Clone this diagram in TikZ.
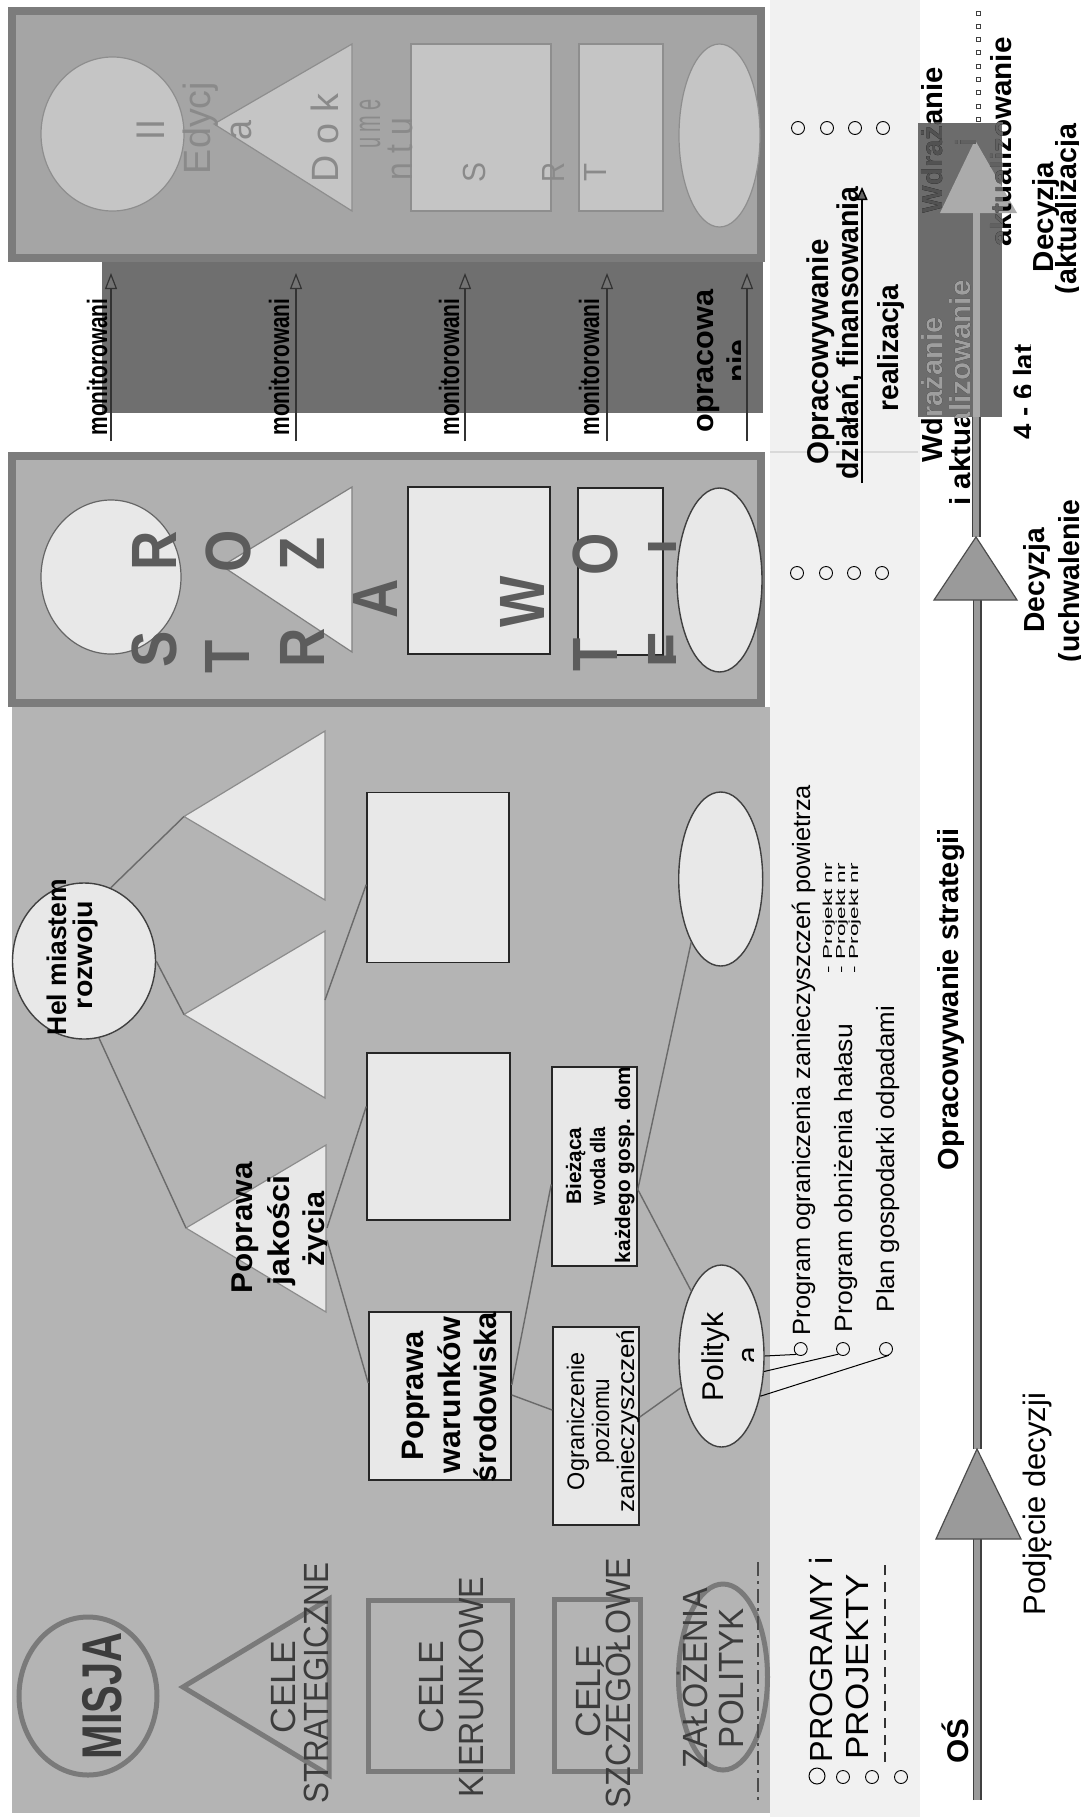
\documentclass[tikz,border=0pt]{standalone}
\usepackage{fontspec}
\setmainfont{Liberation Sans}
\usepackage{graphicx}
\usetikzlibrary{arrows.meta,calc,shapes.geometric}
\definecolor{panel}{HTML}{B4B4B4}
\definecolor{framec}{HTML}{7C7C7C}
\definecolor{topin}{HTML}{A5A5A5}
\definecolor{topshape}{HTML}{C5C5C5}
\definecolor{topedge}{HTML}{8E8E8E}
\definecolor{ghost}{HTML}{8A8A8A}
\definecolor{stratin}{HTML}{B0B0B0}
\definecolor{lightshape}{HTML}{E8E8E8}
\definecolor{darkband}{HTML}{6F6F6F}
\definecolor{lightband}{HTML}{F1F1F1}
\definecolor{legc}{HTML}{7A7A7A}
\definecolor{legtext}{HTML}{3C3C3C}
\definecolor{letc}{HTML}{5C5C5C}
\definecolor{connc}{HTML}{6A6A6A}
\definecolor{tlfill}{HTML}{9A9A9A}
\definecolor{wdrc}{HTML}{6C6C6C}
\definecolor{wdrtri}{HTML}{ABABAB}
\newcommand\fs[1]{\fontsize{#1}{#1}\selectfont}
\newcommand\W[2]{\resizebox{#1pt}{\height}{#2}}
\begin{document}
\begin{tikzpicture}[x=1pt,y=-1pt,
  txt/.style={rotate=90,anchor=base,inner sep=0pt,outer sep=0pt},
  ctxt/.style={rotate=90,anchor=center,inner sep=0pt,outer sep=0pt},
  conn/.style={draw=connc,line width=1.4pt},
  whitebox/.style={rectangle,draw=black!85,fill=lightshape,line width=1.6pt,inner sep=0pt},
  whiteell/.style={ellipse,draw=black!75,fill=lightshape,line width=1.4pt,inner sep=0pt},
  tri/.style={draw=black!45,fill=lightshape,line width=1.2pt},
  topsh/.style={draw=topedge,fill=topshape,line width=1.2pt,inner sep=0pt},
  legshape/.style={draw=legc,line width=5pt,inner sep=0pt},
  bulletc/.style={circle,draw=black,line width=0.9pt,inner sep=0pt,minimum size=13pt},
  marrow/.style={draw=black!80,line width=1.2pt,-{Triangle[length=16pt,width=12pt,fill=black!55]}},
  tlout/.style={draw=black!75,line width=9pt},
  tlin/.style={draw=tlfill,line width=6pt},
  mtri/.style={draw=black!70,fill=tlfill,line width=1.2pt}
]
\useasboundingbox (0,0) rectangle (1082,1817);
\fill[white] (0,0) rectangle (1082,1817);

% ---------- light band on the right
\fill[lightband] (770,0) rectangle (920,1817);
\draw[line width=2pt,black!15] (770,452) -- (918,452);

% ---------- pyramid panel
\fill[panel] (12,707) rectangle (770,1813);

% ---------- top box (II Edycja Dokumentu)
\draw[line width=8pt,draw=framec,fill=topin] (12,11) rectangle (761,258);
\node[ellipse,topsh,minimum width=143pt,minimum height=154pt] (te1) at (112.5,134) {};
\draw[topsh] (214,124) -- (352,44) -- (352,211) -- cycle;
\node[rectangle,topsh,minimum width=140pt,minimum height=167pt] (tr1) at (481,127.5) {};
\node[rectangle,topsh,minimum width=84pt,minimum height=167pt] (tr2) at (621,127.5) {};
\node[ellipse,topsh,minimum width=81pt,minimum height=183pt] (te2) at (719.5,135.5) {};
\begin{scope}[text=ghost]
\node[txt,font={\fs{40}}] (g1) at (164,130) {\W{20}{II}};
\node[txt,font={\fs{38}}] (g2) at (210,128) {\W{92}{Edycj}};
\node[txt,font={\fs{38}}] (g3) at (251,130) {\W{20}{a}};
\node[txt,font={\fs{38}}] (g4) at (338,138) {\W{88}{D o k}};
\node[txt,font={\fs{38}}] (g5) at (380,124) {\W{50}{u m e}};
\node[txt,font={\fs{38}}] (g6) at (412,149) {\W{62}{n t u}};
\node[txt,font={\fs{32}}] (g7) at (485,172) {\W{20}{S}};
\node[txt,font={\fs{32}}] (g8) at (564,172) {\W{20}{R}};
\node[txt,font={\fs{32}}] (g9) at (606,172) {\W{18}{T}};
\end{scope}

% ---------- monitoring band
\fill[darkband] (102,262) rectangle (763,413);
\foreach \n/\xx in {1/111,2/296,3/465,4/607,5/747}{
  \coordinate (ma\n) at (\xx,441);
  \coordinate (mb\n) at (\xx,273);
  \draw[marrow] (ma\n) -- (mb\n);
}
\node[txt,font={\fs{28}\bfseries}] (m1) at (107,367) {\W{137}{monitorowani}};
\node[txt,font={\fs{28}\bfseries}] (m2) at (289,367) {\W{137}{monitorowani}};
\node[txt,font={\fs{28}\bfseries}] (m3) at (459,367) {\W{137}{monitorowani}};
\node[txt,font={\fs{28}\bfseries}] (m4) at (599,367) {\W{137}{monitorowani}};
\node[txt,font={\fs{30}\bfseries}] (op1) at (713,361) {\W{143}{opracowa}};
\begin{scope}
\clip (700,300) rectangle (740,420);
\node[txt,font={\fs{30}\bfseries}] (op2) at (748,361) {nie};
\end{scope}

% ---------- STRATEGIA box
\draw[line width=8pt,draw=framec,fill=stratin] (12,456) rectangle (761,703);
\node[ellipse,draw=black!60,fill=lightshape,line width=1.2pt,inner sep=0pt,minimum width=140pt,minimum height=154pt] (sc) at (111,577) {};
\draw[draw=black!50,fill=lightshape,line width=1.2pt] (222,566) -- (352,487) -- (352,652) -- cycle;
\node[whitebox,minimum width=142pt,minimum height=167pt] (sr1) at (479,570.5) {};
\node[whitebox,minimum width=85pt,minimum height=167pt] (sr2) at (620.5,571.5) {};
\node[whiteell,minimum width=85pt,minimum height=184pt] (se) at (719.5,580) {};
\begin{scope}
\clip (20,460) rectangle (675,700);
\foreach \n/\xx/\yy/\ch in {1/154/649/S,2/154/551/R,3/227/657/T,4/228/551/O,5/302/648/R,6/302/554/Z,7/375/599/A,8/522/602/W,9/595/655/T,10/595/554/O,11/670/649/E,12/670/547/I}{
  \node[ctxt,font={\fs{64}\bfseries},text=letc] (L\n) at (\xx,\yy) {\scalebox{0.85}[1]{\ch}};
}
\end{scope}

% ---------- pyramid shapes
\node[whiteell,minimum width=143pt,minimum height=156pt] (hel) at (84,961) {};
\coordinate (t1a) at (184,816.5);
\coordinate (t2a) at (184,1014.5);
\coordinate (t3a) at (186,1228);
\draw[tri] (t1a) -- (325,731) -- (325,900) -- cycle;
\draw[tri] (t2a) -- (325,931) -- (325,1098) -- cycle;
\draw[tri] (t3a) -- (326,1145) -- (326,1312) -- cycle;
\node[whitebox,minimum width=142pt,minimum height=170pt] (rA) at (438,877.6) {};
\node[whitebox,minimum width=143pt,minimum height=167pt] (rB) at (438.5,1136.5) {};
\node[whitebox,minimum width=142pt,minimum height=168pt] (pw) at (440,1396) {};
\node[whitebox,minimum width=85pt,minimum height=199pt] (bz) at (594.5,1166.5) {};
\node[whitebox,minimum width=86pt,minimum height=198pt] (og) at (596,1426) {};
\node[whiteell,minimum width=84pt,minimum height=174pt] (e1) at (720.7,879) {};
\node[whiteell,minimum width=85pt,minimum height=182pt] (pl) at (721.5,1356) {};

% connectors
\coordinate (t2b) at (325,1000);
\coordinate (t3b) at (327,1228);
\coordinate (t3c) at (327,1240);
\draw[conn] (hel.70) -- (t1a);
\draw[conn] (hel.0) -- (t2a);
\draw[conn] (hel.281) -- (t3a);
\draw[conn] (t2b) -- ($(rA.west)+(0,7)$);
\draw[conn] (t3b) -- ($(rB.west)+(0,-30)$);
\draw[conn] (t3c) -- ($(pw.west)+(0,-13)$);
\draw[conn] ($(pw.east)+(0,-11)$) -- ($(bz.west)+(0,18)$);
\draw[conn] (e1.245) -- ($(bz.east)+(0,23)$);
\draw[conn] ($(bz.east)+(0,23)$) -- (pl.115);
\draw[conn] ($(pw.east)+(0,-1)$) -- ($(og.west)+(0,-16)$);
\draw[conn] ($(og.east)+(0,-9)$) -- (pl.218);

% pyramid texts
\node[txt,font={\fs{27}\bfseries}] (h1) at (66,957) {\W{156}{Hel miastem}};
\node[txt,font={\fs{27}\bfseries}] (h2) at (92,955) {\W{108}{rozwoju}};
\node[txt,font={\fs{30}\bfseries}] (p1) at (252,1228) {\W{131}{Poprawa}};
\node[txt,font={\fs{30}\bfseries}] (p2) at (289,1230) {\W{110}{jakości}};
\begin{scope}
\clip (295,1180) rectangle (326,1280);
\node[txt,font={\fs{30}\bfseries}] (p3) at (324,1229) {\W{75}{życia}};
\end{scope}
\node[txt,font={\fs{31}\bfseries}] (w1) at (423,1396) {\W{129}{Poprawa}};
\node[txt,font={\fs{31}\bfseries}] (w2) at (460,1395) {\W{156}{warunków}};
\node[txt,font={\fs{31}\bfseries}] (w3) at (496,1397) {\W{170}{środowiska}};
\node[txt,font={\fs{21}\bfseries}] (b1) at (581,1166) {\W{77}{Bieżąca}};
\node[txt,font={\fs{21}\bfseries}] (b2) at (605,1166) {\W{78}{woda dla}};
\begin{scope}
\clip (600,1050) rectangle (636,1280);
\node[txt,font={\fs{21}\bfseries}] (b3) at (630,1165) {\W{196}{każdego gosp. dom}};
\end{scope}
\node[txt,font={\fs{24}}] (o1) at (584,1421) {\W{138}{Ograniczenie}};
\node[txt,font={\fs{24}}] (o2) at (609,1421) {\W{85}{poziomu}};
\begin{scope}
\clip (600,1300) rectangle (638,1540);
\node[txt,font={\fs{24}}] (o3) at (634,1421) {\W{183}{zanieczyszczeń}};
\end{scope}
\node[txt,font={\fs{30}}] (po1) at (723,1357) {\W{89}{Polityk}};
\begin{scope}
\clip (730,1320) rectangle (753,1400);
\node[txt,font={\fs{30}}] (po2) at (758,1355) {a};
\end{scope}

% ---------- programs
\node[bulletc] (c1) at (800.7,1349) {};
\node[bulletc] (c2) at (843,1349) {};
\node[bulletc] (c3) at (886,1349) {};
\draw[black,line width=1pt] (pl.0) -- (c1.231);
\draw[black,line width=1pt] (pl.340) -- (c2.228);
\draw[black,line width=1pt] (pl.314) -- (c3.294);
\node[txt,font={\fs{25}}] (pr1) at (810,1060) {\W{550}{Program ograniczenia zanieczyszczeń powietrza}};
\node[txt,font={\fs{25}}] (pr2) at (852,1178) {\W{308}{Program obniżenia hałasu}};
\node[txt,font={\fs{25}}] (pr3) at (894,1159) {\W{306}{Plan gospodarki odpadami}};
\node[txt,font={\fs{13}}] (pj1) at (832,918) {\W{110}{- Projekt nr}};
\node[txt,font={\fs{13}}] (pj2) at (845,918) {\W{110}{- Projekt nr}};
\node[txt,font={\fs{13}}] (pj3) at (858,918) {\W{110}{- Projekt nr}};
\node[txt,font={\fs{29}\bfseries}] (os) at (958,999) {\W{342}{Opracowywanie strategii}};

% ---------- legend
\node[ellipse,legshape,minimum width=138pt,minimum height=158pt] (misja) at (88,1696) {};
\draw[legshape,line join=miter] (183,1687) -- (329,1599) -- (329,1775) -- cycle;
\node[rectangle,legshape,minimum width=144pt,minimum height=171pt] (kier) at (440,1685.5) {};
\node[rectangle,legshape,minimum width=86pt,minimum height=172pt] (szcz) at (597,1685) {};
\node[ellipse,legshape,minimum width=89pt,minimum height=186pt] (zal) at (723,1677) {};
\begin{scope}[text=legtext]
\node[txt,font={\fs{56}\bfseries}] (lm) at (121,1696) {\W{127}{MISJA}};
\node[txt,font={\fs{35}}] (lc1) at (295,1687) {\W{93}{CELE}};
\node[txt,font={\fs{35}}] (lc2) at (328,1683) {\W{240}{STRATEGICZNE}};
\node[txt,font={\fs{35}}] (lc3) at (443,1687) {\W{93}{CELE}};
\node[txt,font={\fs{35}}] (lc4) at (483,1687) {\W{220}{KIERUNKOWE}};
\node[txt,font={\fs{35}}] (lc5) at (600,1691) {\W{93}{CELE}};
\node[txt,font={\fs{35}}] (lc6) at (630,1683) {\W{250}{SZCZEGÓŁOWE}};
\node[txt,font={\fs{35}}] (lc7) at (707,1678) {\W{180}{ZAŁOŻENIA}};
\node[txt,font={\fs{35}}] (lc8) at (743,1678) {\W{140}{POLITYK}};
\end{scope}
\coordinate (dd1) at (758,1562);
\coordinate (dd2) at (758,1802);
\draw[black!70,line width=1.5pt,dash pattern=on 14pt off 5pt on 3pt off 5pt] (dd1) -- (dd2);

% PROGRAMY i PROJEKTY
\node[circle,draw=black,line width=1pt,inner sep=0pt,minimum size=16pt] (pb1) at (817,1776) {};
\node[bulletc] (pb2) at (843,1777) {};
\node[bulletc] (pb3) at (872,1777) {};
\node[bulletc] (pb4) at (901,1777) {};
\node[txt,font={\fs{32}}] (pg1) at (832,1660) {\W{205}{PROGRAMY i}};
\node[txt,font={\fs{32}}] (pg2) at (868,1667) {\W{185}{PROJEKTY}};
\coordinate (pd1) at (885,1762);
\coordinate (pd2) at (885,1565);
\draw[black!80,line width=1.6pt,dash pattern=on 10pt off 7pt] (pd1) -- (pd2);
\node[txt,font={\fs{30}\bfseries}] (osx) at (968,1741) {\W{45}{OŚ}};

% ---------- upper right circles
\foreach \n/\xx in {1/798,2/827,3/855,4/883}{
  \node[bulletc] (uc\n) at (\xx,128) {};
  \node[bulletc] (lc\n) at (\xx-1,573) {};
}

% ---------- Opracowywanie dzialan
\node[txt,font={\fs{30}\bfseries}] (od1) at (828,352) {\W{225}{Opracowywanie}};
\node[txt,font={\fs{30}\bfseries}] (od2) at (858,333) {\W{293}{działań, finansowania}};
\node[txt,font={\fs{29}\bfseries}] (od3) at (898,348) {\W{127}{realizacja}};
\coordinate (ua) at (862,483);
\coordinate (ub) at (862,187);
\draw[black,line width=1.5pt,-{Triangle[length=13pt,width=11pt,fill=black!60]}] (ua) -- (ub);

% ---------- timeline
\fill[wdrc] (918,123) rectangle (1002,417);
\coordinate (tl0) at (977,1800);
\coordinate (pbase) at (977,1539);
\coordinate (papex) at (977,1449);
\coordinate (d1base) at (977,600);
\coordinate (d1apex) at (976,537);
\coordinate (wbot) at (976,417);
\coordinate (d2base) at (976,213);
\draw[tlout] (tl0) -- (pbase);
\draw[tlin] (tl0) -- (pbase);
\draw[tlout] (papex) -- (d1base);
\draw[tlin] (papex) -- (d1base);
\draw[tlout] (d1apex) -- (wbot);
\draw[tlin] (d1apex) -- (wbot);
\draw[draw=tlfill!85!white,line width=7pt] (wbot) -- (d2base);
\draw[mtri] (papex) -- (1021,1539) -- (936,1539) -- cycle;
\draw[mtri] (d1apex) -- (1017,600) -- (934,600) -- cycle;
\fill[wdrtri] (975,140) -- (1017,213) -- (940,213) -- cycle;
\foreach \i in {0,...,8}{
  \draw[black!75,line width=0.8pt,fill=white] ({976},{11+13.3*\i}) rectangle ({980},{15+13.3*\i});
}

% texts around the Wdrazanie box
\node[txt,font={\fs{29}\bfseries}] (wd1) at (942,140) {\W{146}{Wdrażanie}};
\node[txt,font={\fs{29}\bfseries}] (wd2) at (976,142) {i};
\node[txt,font={\fs{29}\bfseries}] (wd3) at (1011,142) {\W{209}{aktualizowanie}};
\node[txt,font={\fs{29}\bfseries}] (wd4) at (942,390) {\W{145}{Wdrażanie}};
\node[txt,font={\fs{29}\bfseries}] (wd5) at (970,393) {\W{225}{i aktualizowanie}};
\begin{scope}
\clip (918,123) rectangle (1002,417);
\node[txt,font={\fs{29}\bfseries},text=black!68] (wd1b) at (942,140) {\W{146}{Wdrażanie}};
\node[txt,font={\fs{29}\bfseries},text=black!62] (wd2b) at (976,142) {i};
\node[txt,font={\fs{29}\bfseries},text=black!62] (wd3b) at (1011,142) {\W{209}{aktualizowanie}};
\node[txt,font={\fs{29}\bfseries},text=black!38] (wd4b) at (942,390) {\W{145}{Wdrażanie}};
\node[txt,font={\fs{29}\bfseries},text=black!38] (wd5b) at (970,393) {\W{225}{i aktualizowanie}};
\end{scope}
\begin{scope}
\clip (1005,300) rectangle (1030,480);
\node[txt,font={\fs{28}\bfseries}] (lat) at (1033,392) {\W{95}{4 - 6 lat}};
\end{scope}
\node[txt,font={\fs{29}\bfseries}] (de1) at (1053,217) {\W{110}{Decyzja}};
\begin{scope}
\clip (1050,100) rectangle (1078,320);
\node[txt,font={\fs{29}\bfseries}] (de2) at (1076,209) {\W{170}{(aktualizacja}};
\end{scope}
\node[txt,font={\fs{29}\bfseries}] (de3) at (1044,580) {\W{105}{Decyzja}};
\begin{scope}
\clip (1050,480) rectangle (1080,680);
\node[txt,font={\fs{29}\bfseries}] (de4) at (1079,581) {\W{162}{(uchwalenie}};
\end{scope}
\node[txt,font={\fs{31}}] (pdz) at (1045,1504) {\W{222}{Podjęcie decyzji}};
\end{tikzpicture}
\end{document}
